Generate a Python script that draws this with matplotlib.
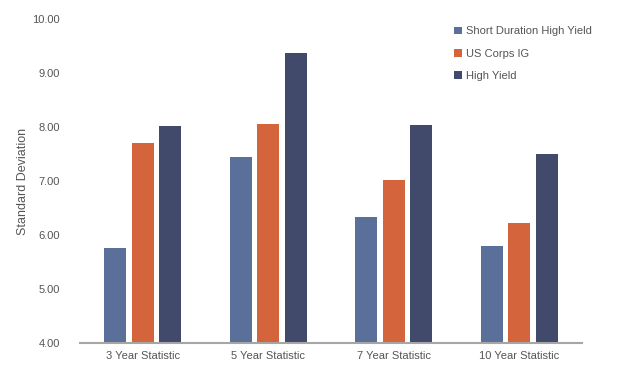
import matplotlib
matplotlib.use("Agg")
import matplotlib.pyplot as plt
import numpy as np
from matplotlib.patches import Patch

categories = ["3 Year Statistic", "5 Year Statistic", "7 Year Statistic", "10 Year Statistic"]
series_names = ["Short Duration High Yield", "US Corps IG", "High Yield"]
short_duration_hy = [5.76, 7.45, 6.34, 5.80]
us_corps_ig = [7.70, 8.06, 7.01, 6.22]
high_yield = [8.01, 9.38, 8.03, 7.50]
yticks = [4.0, 5.0, 6.0, 7.0, 8.0, 9.0, 10.0]

colors = ["#5a6f9a", "#d3643c", "#414a6a"]
plt.rcParams['font.family'] = ['Liberation Sans', 'DejaVu Sans']

fig = plt.figure(figsize=(6.3, 3.78), dpi=100)
ax = fig.add_axes([0.127, 0.0926, 0.797, 0.857])

x = np.arange(len(categories))
w = 0.175
off = 0.22
for i, (vals, name) in enumerate(zip([short_duration_hy, us_corps_ig, high_yield], series_names)):
    ax.bar(x + (i - 1) * off, [v - 4.0 for v in vals], width=w, bottom=4.0,
           color=colors[i], edgecolor="none", label=name, zorder=2)

ax.set_xlim(-0.5, 3.5)
ax.set_ylim(4.0, 10.0)
ax.set_yticks(yticks)
ax.set_yticklabels([f"{t:.2f}" for t in yticks], color="#555555", fontsize=8)
ax.set_xticks(x)
ax.set_xticklabels(categories, color="#555555", fontsize=8)
ax.tick_params(axis="both", length=0)
ax.tick_params(axis="y", pad=14.5)
ax.tick_params(axis="x", pad=6)
for s in ["top", "right", "left"]:
    ax.spines[s].set_visible(False)
ax.spines["bottom"].set_color("#a6a6a6")
ax.spines["bottom"].set_linewidth(1.5)
ax.set_ylabel("Standard Deviation", color="#555555", fontsize=9, labelpad=2)

handles = [Patch(facecolor=c, edgecolor="none") for c in colors]
leg = ax.legend(handles, series_names, loc="upper left", bbox_to_anchor=(0.725, 1.008),
                frameon=False, fontsize=8, handlelength=0.7, handleheight=0.7,
                handletextpad=0.4, labelspacing=1.1, labelcolor="#555555")

fig.savefig("out.png", dpi=100)
